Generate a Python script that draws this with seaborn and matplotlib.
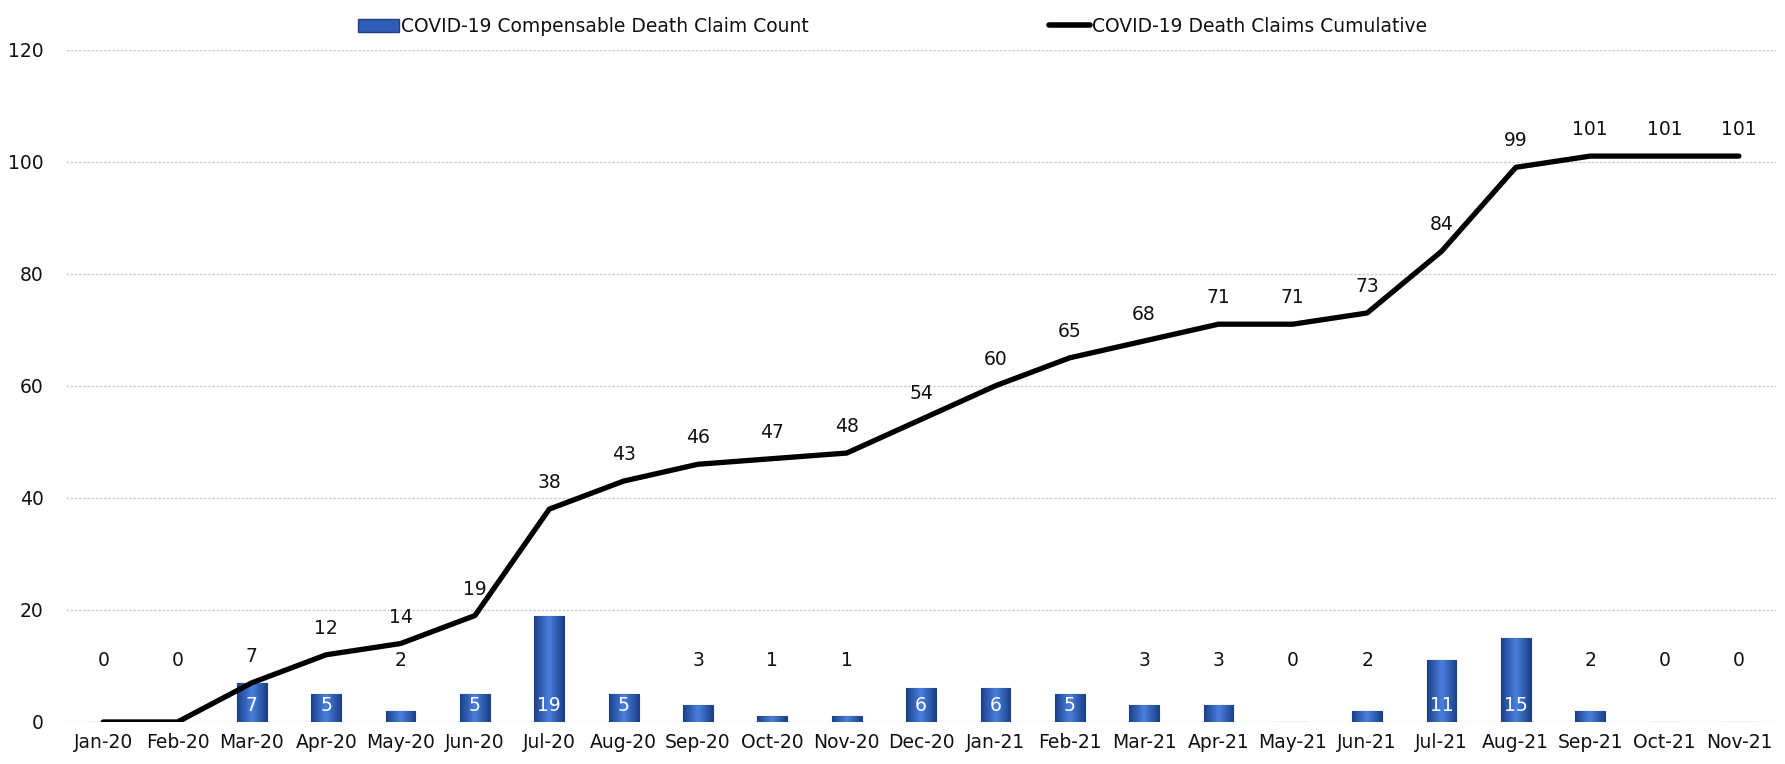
import numpy as np
import pandas as pd
import seaborn as sns
import matplotlib.pyplot as plt
from matplotlib.patches import Patch
from matplotlib.lines import Line2D

# data
months = ['Jan-20', 'Feb-20', 'Mar-20', 'Apr-20', 'May-20', 'Jun-20', 'Jul-20', 'Aug-20',
          'Sep-20', 'Oct-20', 'Nov-20', 'Dec-20', 'Jan-21', 'Feb-21', 'Mar-21', 'Apr-21',
          'May-21', 'Jun-21', 'Jul-21', 'Aug-21', 'Sep-21', 'Oct-21', 'Nov-21']
claim_count = [0, 0, 7, 5, 2, 5, 19, 5, 3, 1, 1, 6, 6, 5, 3, 3, 0, 2, 11, 15, 2, 0, 0]
cumulative = [0, 0, 7, 12, 14, 19, 38, 43, 46, 47, 48, 54, 60, 65, 68, 71, 71, 73, 84, 99, 101, 101, 101]

bar_label = 'COVID-19 Compensable Death Claim Count'
line_label = 'COVID-19 Death Claims Cumulative'

df = pd.DataFrame({'month': months, 'count': claim_count, 'cum': cumulative})
df['month'] = pd.Categorical(df['month'], categories=months, ordered=True)

sns.set_theme(style='white')
plt.rcParams['font.family'] = ['Liberation Sans Narrow', 'DejaVu Sans']
text_col = '#111111'

fig = plt.figure(figsize=(17.85, 7.64), dpi=100)
ax = fig.add_axes([0.037, 0.055, 0.958, 0.880])

sns.barplot(data=df, x='month', y='count', ax=ax, color='#2f5cb4', width=0.4,
            edgecolor='#1d3f84', linewidth=0.8, saturation=1, zorder=2)

# give the bars a soft horizontal gradient like the original
grad = np.linspace(0, 1, 64)
grad = 1 - np.abs(grad - 0.5) * 2
grad = np.vstack([grad, grad])
cmap = sns.blend_palette(['#1b408a', '#4a7fdc'], as_cmap=True)
for p in ax.patches:
    x0, y0 = p.get_x(), p.get_y()
    w, h = p.get_width(), p.get_height()
    if h <= 0:
        continue
    im = ax.imshow(grad, cmap=cmap, extent=[x0, x0 + w, y0, y0 + h], aspect='auto',
                   zorder=2.5, interpolation='bilinear')
    im.set_clip_path(p)

sns.lineplot(data=df, x='month', y='cum', ax=ax, color='black', linewidth=3.8,
             sort=False, zorder=4)

# bar value labels
for i, v in enumerate(claim_count):
    if v >= 4:
        ax.text(i, 3, str(v), ha='center', va='center', color='white', fontsize=13.5, zorder=5)
    else:
        ax.text(i, 11, str(v), ha='center', va='center', color=text_col, fontsize=13.5, zorder=5)

# line value labels
for i, v in enumerate(cumulative):
    if v == 0:
        continue
    ax.annotate(str(v), (i, v), xytext=(0, 19), textcoords='offset points',
                ha='center', va='center', color=text_col, fontsize=13.5, zorder=5)

ax.set_xlim(-0.5, len(months) - 0.5)
ax.set_ylim(0, 120)
ax.set_yticks(range(0, 121, 20))
ax.set_xlabel('')
ax.set_ylabel('')
ax.grid(axis='y', color='#cfcfcf', linestyle=(0, (2, 1)), linewidth=1)
ax.set_axisbelow(True)
for s in ax.spines.values():
    s.set_visible(False)
ax.tick_params(axis='both', length=0, labelsize=13.5, colors=text_col)
ax.tick_params(axis='y', pad=16)
ax.tick_params(axis='x', pad=8)

handles = [Patch(facecolor='#2f5cb4', edgecolor='#1d3f84', label=bar_label),
           Line2D([0], [0], color='black', linewidth=4, label=line_label)]
fig.legend(handles=handles, loc='upper center', bbox_to_anchor=(0.5, 1.0), ncol=2,
           frameon=False, fontsize=13.5, columnspacing=12.8, handlelength=2.2,
           handletextpad=0.1, labelcolor=text_col)

fig.savefig('out.png', dpi=100)
